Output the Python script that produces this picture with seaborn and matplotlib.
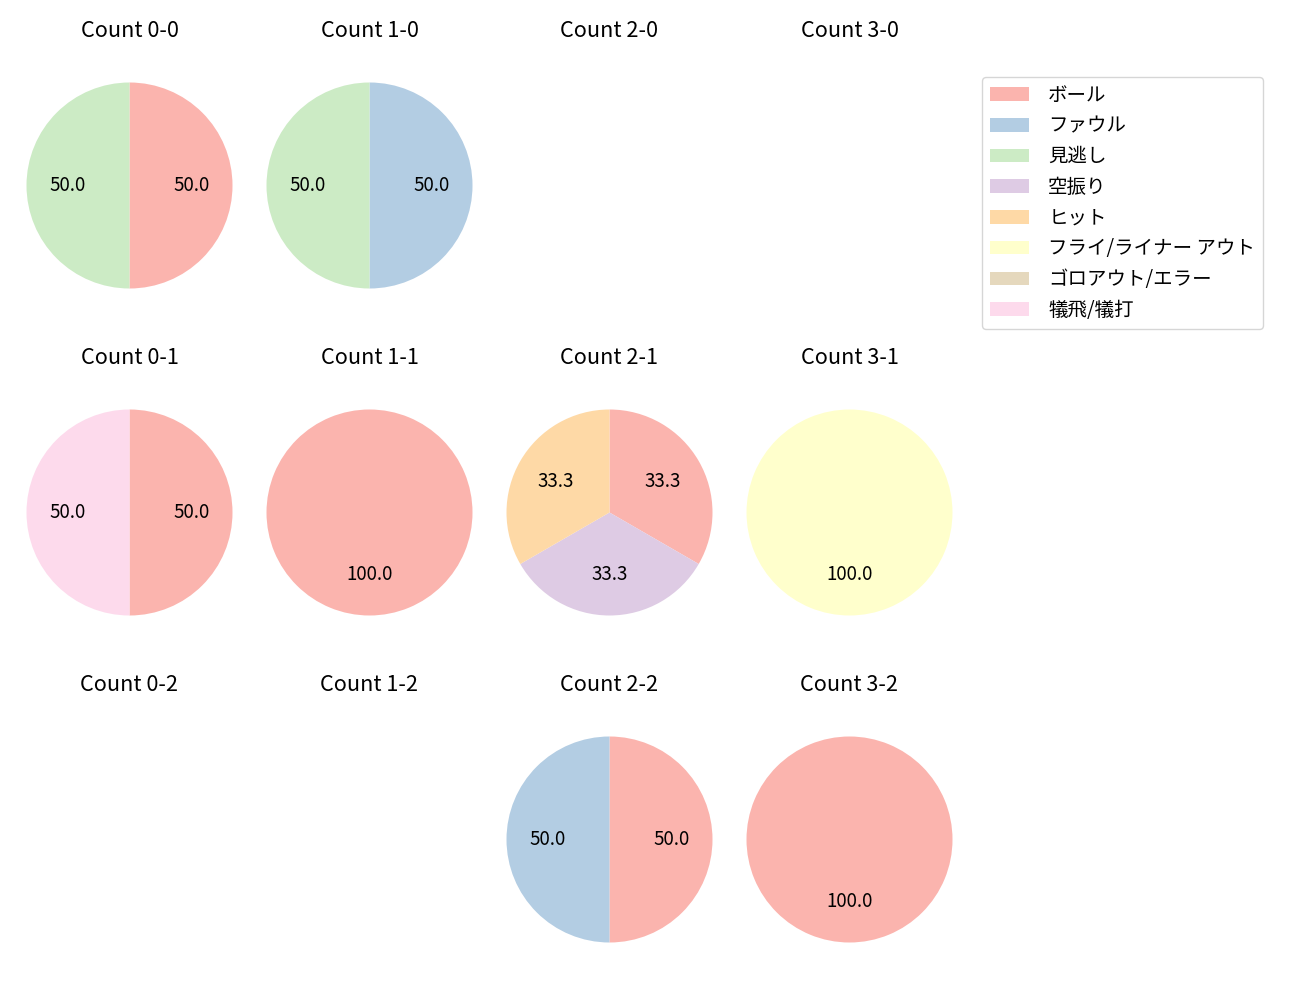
import matplotlib
matplotlib.use("Agg")
import matplotlib.pyplot as plt
import seaborn as sns
from matplotlib.patches import Patch

plt.rcParams['font.family'] = ['Noto Sans CJK JP', 'DejaVu Sans']

categories = ["ボール", "ファウル", "見逃し", "空振り", "ヒット",
              "フライ/ライナー アウト", "ゴロアウト/エラー", "犠飛/犠打"]
count_labels = ["0-0", "1-0", "2-0", "3-0",
                "0-1", "1-1", "2-1", "3-1",
                "0-2", "1-2", "2-2", "3-2"]
# values per category, in category order
v_0_0 = [1, 0, 1, 0, 0, 0, 0, 0]
v_1_0 = [0, 1, 1, 0, 0, 0, 0, 0]
v_2_0 = [0, 0, 0, 0, 0, 0, 0, 0]
v_3_0 = [0, 0, 0, 0, 0, 0, 0, 0]
v_0_1 = [1, 0, 0, 0, 0, 0, 0, 1]
v_1_1 = [1, 0, 0, 0, 0, 0, 0, 0]
v_2_1 = [1, 0, 0, 1, 1, 0, 0, 0]
v_3_1 = [0, 0, 0, 0, 0, 1, 0, 0]
v_0_2 = [0, 0, 0, 0, 0, 0, 0, 0]
v_1_2 = [0, 0, 0, 0, 0, 0, 0, 0]
v_2_2 = [1, 1, 0, 0, 0, 0, 0, 0]
v_3_2 = [1, 0, 0, 0, 0, 0, 0, 0]
all_values = [v_0_0, v_1_0, v_2_0, v_3_0, v_0_1, v_1_1, v_2_1, v_3_1,
              v_0_2, v_1_2, v_2_2, v_3_2]

colors = sns.color_palette("Pastel1", 8)

W, H = 1300, 1000
fig = plt.figure(figsize=(13, 10), dpi=100)
col_cx = [129.5, 369.5, 609.5, 849.5]
row_cy = [185.5, 512.5, 839.5]
side = 257.5
for k, (lab, vals) in enumerate(zip(count_labels, all_values)):
    r, c = divmod(k, 4)
    cx, cy = col_cx[c], row_cy[r]
    ax = fig.add_axes([(cx - side / 2) / W, 1 - (cy + side / 2) / H, side / W, side / H])
    ax.set_title(f"Count {lab}", fontsize=15.6, pad=14.5)
    ax.set_xlim(-1.25, 1.25)
    ax.set_ylim(-1.25, 1.25)
    ax.axis("off")
    if sum(vals) > 0:
        idx = [i for i, v in enumerate(vals) if v > 0]
        ax.pie([vals[i] for i in idx], colors=[colors[i] for i in idx],
               startangle=90, counterclock=False, autopct="%.1f",
               wedgeprops=dict(linewidth=0),
               textprops=dict(fontsize=13.5))

handles = [Patch(facecolor=c, label=l) for c, l in zip(colors, categories)]
fig.legend(handles=handles, loc="upper left", bbox_to_anchor=(982 / W, 1 - 77 / H),
           borderaxespad=0, fontsize=14, frameon=True, handletextpad=1.0)
fig.savefig("out.png", dpi=100)
